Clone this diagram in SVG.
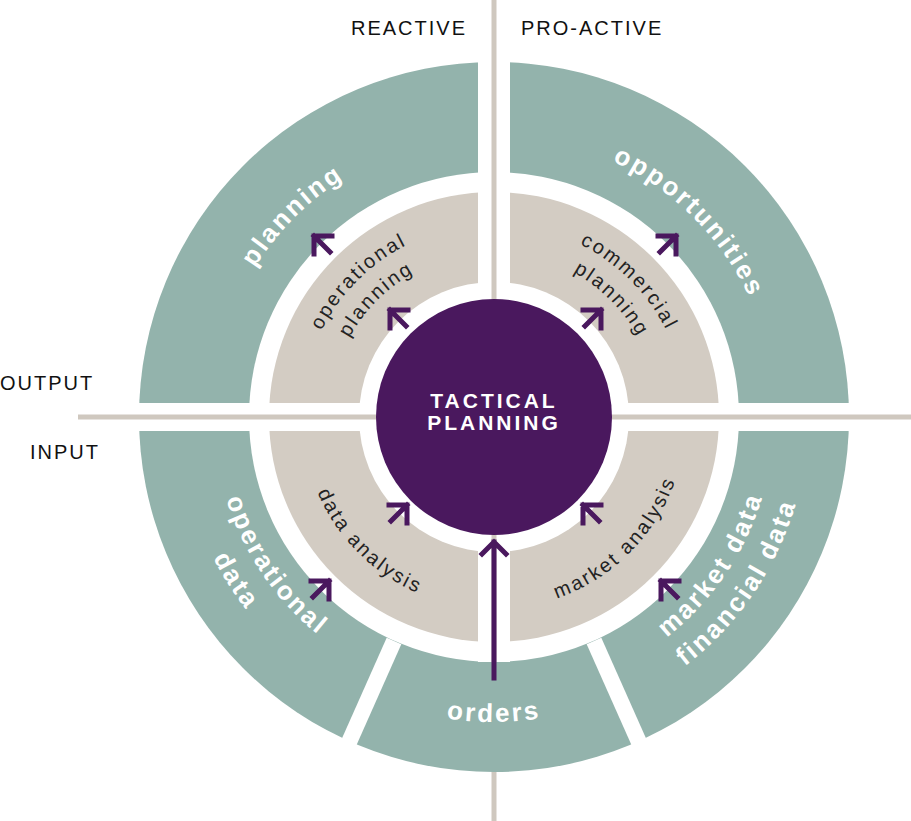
<svg xmlns="http://www.w3.org/2000/svg" xmlns:xlink="http://www.w3.org/1999/xlink" width="911" height="821" viewBox="0 0 911 821">
<style>
.big{font-family:"Liberation Sans",Arial,sans-serif;font-weight:bold;font-size:26px;fill:#fff;letter-spacing:2.5px}
.mid{font-family:"Liberation Sans",Arial,sans-serif;font-size:20px;fill:#222;letter-spacing:2.3px}
.lbl{font-family:"Liberation Sans",Arial,sans-serif;font-size:20px;fill:#111;letter-spacing:2px}
.ctr{font-family:"Liberation Sans",Arial,sans-serif;font-weight:bold;font-size:21px;fill:#fff;letter-spacing:3px}
.gl{stroke:#cfc8bf;stroke-width:5}
.arr{fill:none;stroke:#4a185e;stroke-width:5;stroke-linecap:square}
</style>
<defs>
<path id="u282" d="M212,417 A282,282 0 0 1 776,417"/>
<path id="u193" d="M301,417 A193,193 0 0 1 687,417"/>
<path id="u165" d="M329,417 A165,165 0 0 1 659,417"/>
<path id="l280" d="M214,417 A280,280 0 0 0 774,417"/>
<path id="l314" d="M180,417 A314,314 0 0 0 808,417"/>
<path id="l305" d="M189,417 A305,305 0 0 0 799,417"/>
<path id="l192" d="M302,417 A192,192 0 0 0 686,417"/>
<path id="ch" d="M0,0 L18,0 M0,0 L0,18 M0,0 L16,16"/>
</defs>
<rect width="911" height="821" fill="#fff"/>
<line class="gl" x1="494" y1="0" x2="494" y2="821"/>
<g id="rings">
<circle cx="494" cy="417" r="355" fill="#93b3ac"/>
<circle cx="494" cy="417" r="245" fill="#fff"/>
<circle cx="494" cy="417" r="225" fill="#d3ccc3"/>
<circle cx="494" cy="417" r="135" fill="#fff"/>
<rect x="478" y="0" width="32" height="417" fill="#fff"/>
<rect x="478" y="417" width="32" height="245" fill="#fff"/>
<rect x="0" y="403" width="911" height="28" fill="#fff"/>
<line x1="394" y1="641" x2="346" y2="749" stroke="#fff" stroke-width="16"/>
<line x1="594" y1="641" x2="642" y2="749" stroke="#fff" stroke-width="16"/>
</g>
<g id="connectors">
<line class="gl" x1="494" y1="0" x2="494" y2="417"/>
<line class="gl" x1="494" y1="417" x2="494" y2="662"/>
<line class="gl" x1="78" y1="417" x2="911" y2="417"/>
</g>
<g id="center">
<circle cx="494" cy="417" r="118" fill="#4a185e"/>
<text class="ctr" x="494" y="408" text-anchor="middle">TACTICAL</text>
<text class="ctr" x="494" y="430" text-anchor="middle">PLANNING</text>
</g>
<g id="teal-labels">
<text class="big"><textPath xlink:href="#u282" startOffset="25%" text-anchor="middle">planning</textPath></text>
<text class="big"><textPath xlink:href="#u282" startOffset="75%" text-anchor="middle">opportunities</textPath></text>
<text class="big"><textPath xlink:href="#l280" startOffset="19%" text-anchor="middle">operational</textPath></text>
<text class="big"><textPath xlink:href="#l314" startOffset="18%" text-anchor="middle">data</textPath></text>
<text class="big"><textPath xlink:href="#l305" startOffset="50%" text-anchor="middle">orders</textPath></text>
<text class="big"><textPath xlink:href="#l280" startOffset="81%" text-anchor="middle">market data</textPath></text>
<text class="big"><textPath xlink:href="#l314" startOffset="81%" text-anchor="middle">financial data</textPath></text>
</g>
<g id="beige-labels">
<text class="mid"><textPath xlink:href="#u193" startOffset="25%" text-anchor="middle">operational</textPath></text>
<text class="mid"><textPath xlink:href="#u165" startOffset="25%" text-anchor="middle">planning</textPath></text>
<text class="mid"><textPath xlink:href="#u193" startOffset="75%" text-anchor="middle">commercial</textPath></text>
<text class="mid"><textPath xlink:href="#u165" startOffset="75%" text-anchor="middle">planning</textPath></text>
<text class="mid"><textPath xlink:href="#l192" startOffset="25%" text-anchor="middle">data analysis</textPath></text>
<text class="mid"><textPath xlink:href="#l192" startOffset="75%" text-anchor="middle">market analysis</textPath></text>
</g>
<g id="arrows">
<use xlink:href="#ch" class="arr" transform="translate(314,236)"/>
<use xlink:href="#ch" class="arr" transform="translate(390,310)"/>
<use xlink:href="#ch" class="arr" transform="translate(601,310) rotate(90)"/>
<use xlink:href="#ch" class="arr" transform="translate(676,236) rotate(90)"/>
<use xlink:href="#ch" class="arr" transform="translate(407,505) rotate(90)"/>
<use xlink:href="#ch" class="arr" transform="translate(583,505)"/>
<use xlink:href="#ch" class="arr" transform="translate(329,581) rotate(90)"/>
<use xlink:href="#ch" class="arr" transform="translate(661,581)"/>
<path class="arr" d="M494,678 L494,542 M482,554 L494,542 L506,554"/>
</g>
<g id="labels">
<text class="lbl" x="467" y="35" text-anchor="end">REACTIVE</text>
<text class="lbl" x="521" y="35">PRO-ACTIVE</text>
<text class="lbl" x="0" y="390">OUTPUT</text>
<text class="lbl" x="30" y="459">INPUT</text>
</g>
</svg>
